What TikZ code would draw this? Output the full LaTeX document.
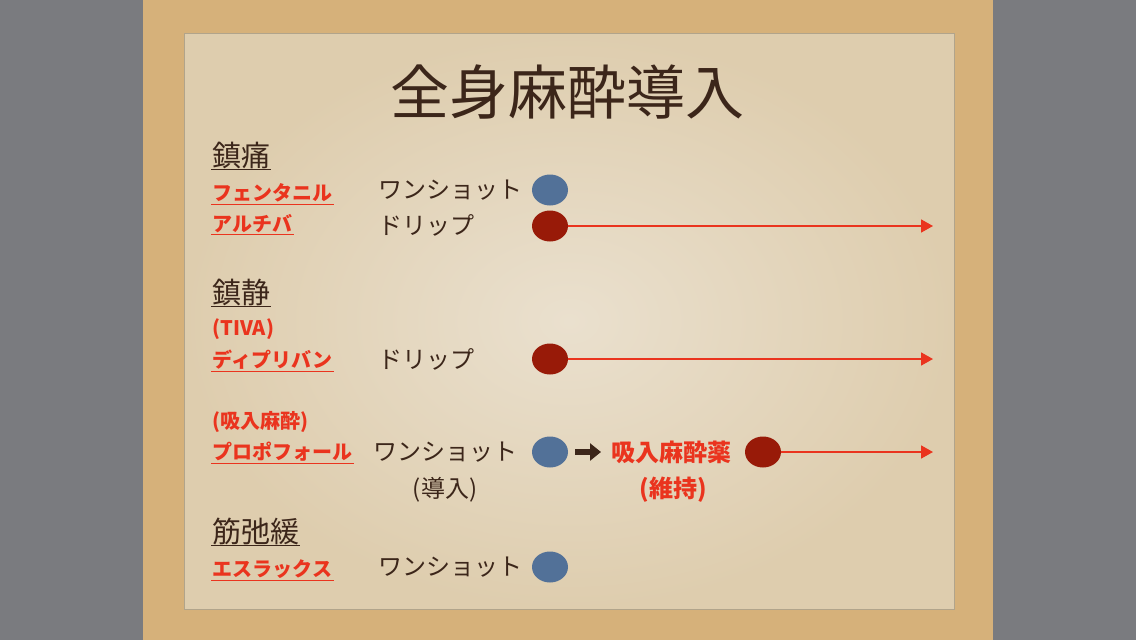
\documentclass[tikz,border=0pt]{standalone}
\usepackage{fontspec}
\usetikzlibrary{positioning,shapes.geometric,arrows.meta}
\newfontfamily\jp{Noto Sans CJK JP}
\definecolor{Ink}{RGB}{60,38,26}
\definecolor{Vermilion}{RGB}{234,52,30}
\definecolor{ShotBlue}{RGB}{82,113,152}
\definecolor{DripRed}{RGB}{152,26,8}
\definecolor{Cork}{RGB}{214,177,122}
\definecolor{PaperLight}{RGB}{234,224,206}
\definecolor{PaperDark}{RGB}{222,205,174}
\definecolor{Frame}{RGB}{122,123,127}
\tikzset{Title/.style={%
    text=Ink,%
    font=\jp\fontsize{59}{59}\selectfont,%
    inner sep=0pt,%
}}
\tikzset{Heading/.style={%
    anchor=west,%
    text=Ink,%
    font=\jp\fontsize{29}{29}\selectfont,%
    inner sep=1pt,%
}}
\tikzset{Drug/.style={%
    anchor=west,%
    text=Vermilion,%
    font=\jp\bfseries\fontsize{20}{20}\selectfont,%
    inner sep=1.5pt,%
}}
\tikzset{Method/.style={%
    anchor=west,%
    text=Ink,%
    font=\jp\fontsize{24}{24}\selectfont,%
    inner sep=0pt,%
}}
\tikzset{ShotDot/.style={%
    shape=ellipse,%
    fill=ShotBlue,%
    minimum width=36pt,%
    minimum height=31pt,%
    inner sep=0pt,%
}}
\tikzset{DripDot/.style={%
    shape=ellipse,%
    fill=DripRed,%
    minimum width=36pt,%
    minimum height=31pt,%
    inner sep=0pt,%
}}
\tikzset{DripArrow/.style={%
    -{Triangle[length=12pt,width=13pt]},%
    draw=Vermilion,%
    line width=1.8pt,%
}}
\tikzset{StepArrow/.style={%
    -{Triangle[length=11pt,width=17pt]},%
    draw=Ink,%
    line width=6pt,%
    shorten <=7pt,%
    shorten >=9pt,%
}}
\tikzset{HeadRule/.style={draw=Ink, line width=0.9pt}}
\tikzset{DrugRule/.style={draw=Vermilion, line width=0.9pt}}

\begin{document}
\begin{tikzpicture}[x=1pt, y=-1pt]
    % board and sheet
    \fill[Frame] (0,0) rectangle (1136,640);
    \fill[Cork] (143,0) rectangle (993,640);
    \shade[inner color=PaperLight, outer color=PaperDark] (184,33) rectangle (954,609);
    \draw[PaperDark!80!black, line width=0.6pt] (184,33) rectangle (954,609);
    \useasboundingbox (0,0) rectangle (1136,640);

    \node[Title] (title) at (567,92) {全身麻酔導入};

    % analgesia
    \node[Heading] (h1) at (211,155) {鎮痛};
    \node[Drug] (fen) at (211,193) {フェンタニル};
    \node[Drug] (ult) at (211,224) {アルチバ};
    \node[Method] (fenM) at (378,190) {ワンショット};
    \node[Method] (ultM) at (378,225) {ドリップ};
    \node[ShotDot] (fenD) at (550,190) {};
    \node[DripDot] (ultD) at (550,226) {};
    \coordinate (ultE) at (933,226);

    % sedation
    \node[Heading] (h2) at (211,292) {鎮静};
    \node[Drug] (tiva) at (211,329) {(TIVA)};
    \node[Drug] (dip) at (211,360) {ディプリバン};
    \node[Method] (dipM) at (378,359) {ドリップ};
    \node[DripDot] (dipD) at (550,359) {};
    \coordinate (dipE) at (933,359);

    % inhalation
    \node[Drug] (inh) at (211,422) {(吸入麻酔)};
    \node[Drug] (pro) at (211,452) {プロポフォール};
    \node[Method] (proM) at (373,452) {ワンショット};
    \node[Method, anchor=center] (proN) at (445,490) {(導入)};
    \node[ShotDot] (proD) at (550,452) {};
    \node[Drug, font=\jp\bfseries\fontsize{24}{24}\selectfont] (gas) at (610,452) {吸入麻酔薬};
    \node[Drug, anchor=center, font=\jp\bfseries\fontsize{24}{24}\selectfont] (gasN) at (673,490) {(維持)};
    \node[DripDot] (gasD) at (763,452) {};
    \coordinate (gasE) at (933,452);

    % relaxant
    \node[Heading] (h3) at (211,531) {筋弛緩};
    \node[Drug] (esl) at (211,569) {エスラックス};
    \node[Method] (eslM) at (378,567) {ワンショット};
    \node[ShotDot] (eslD) at (550,567) {};

    \path (ultD) edge[DripArrow] (ultE);
    \path (dipD) edge[DripArrow] (dipE);
    \path (gasD) edge[DripArrow] (gasE);
    \path (proD) edge[StepArrow] (gas);

    \foreach \n in {h1,h2,h3}
        \draw[HeadRule] (\n.south west) -- (\n.south east);
    \foreach \n in {fen,ult,dip,pro,esl}
        \draw[DrugRule] (\n.south west) -- (\n.south east);
\end{tikzpicture}
\end{document}
